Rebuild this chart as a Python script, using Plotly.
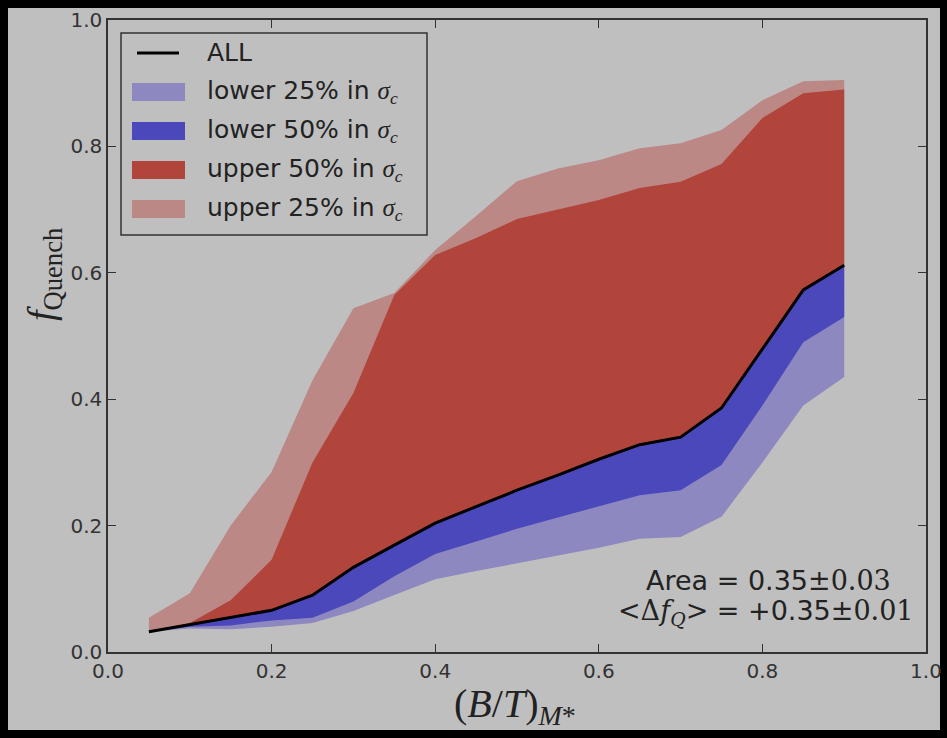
import plotly.graph_objects as go

# ---- data ----
bt = [0.05, 0.10, 0.15, 0.20, 0.25, 0.30, 0.35, 0.40, 0.45, 0.50,
      0.55, 0.60, 0.65, 0.70, 0.75, 0.80, 0.85, 0.90]
f_all = [0.032, 0.043, 0.054, 0.066, 0.090, 0.134, 0.169, 0.204, 0.230, 0.256,
         0.280, 0.305, 0.328, 0.340, 0.386, 0.480, 0.573, 0.612]
upper25 = [0.054, 0.093, 0.200, 0.285, 0.430, 0.544, 0.568, 0.636, 0.690, 0.745,
           0.765, 0.778, 0.797, 0.805, 0.826, 0.873, 0.903, 0.905]
upper50 = [0.032, 0.046, 0.082, 0.146, 0.300, 0.410, 0.565, 0.628, 0.655, 0.685,
           0.700, 0.715, 0.734, 0.744, 0.772, 0.845, 0.884, 0.890]
lower50 = [0.032, 0.040, 0.042, 0.050, 0.054, 0.080, 0.120, 0.155, 0.175, 0.195,
           0.213, 0.230, 0.248, 0.256, 0.296, 0.390, 0.490, 0.530]
lower25 = [0.032, 0.037, 0.036, 0.040, 0.046, 0.065, 0.090, 0.115, 0.128, 0.140,
           0.152, 0.165, 0.179, 0.182, 0.214, 0.300, 0.390, 0.435]

tickvals = [0.0, 0.2, 0.4, 0.6, 0.8, 1.0]
ticktext = ["0.0", "0.2", "0.4", "0.6", "0.8", "1.0"]

legend_names = ["ALL", "lower 25% in", "lower 50% in", "upper 50% in", "upper 25% in"]

GRAY = "#bfbfbf"
C_UP25 = "rgb(187,136,134)"
C_UP50 = "rgb(177,69,60)"
C_LO50 = "rgb(74,72,186)"
C_LO25 = "rgb(141,136,192)"
TXT = "#222"
SERIF = "Liberation Serif"
SERIF2 = "DejaVu Serif"

# plot-area pixel geometry
W, H = 947, 738
L, R, T, B = 108, 21, 20, 86
PW, PH = W - L - R, H - T - B


def px(xp):
    return (xp - L) / PW


def py(yp):
    return (H - B - yp) / PH


fig = go.Figure()


def helper():
    fig.add_trace(go.Scatter(x=bt, y=f_all, mode="lines", line=dict(width=0),
                             showlegend=False, hoverinfo="skip"))


def band(yvals, color, name):
    fig.add_trace(go.Scatter(x=bt, y=yvals, mode="lines", line=dict(width=0, color=color),
                             fill="tonexty", fillcolor=color, name=name, showlegend=False))


helper()
band(upper25, C_UP25, legend_names[4])
helper()
band(upper50, C_UP50, legend_names[3])
helper()
band(lower25, C_LO25, legend_names[1])
helper()
band(lower50, C_LO50, legend_names[2])

fig.add_trace(go.Scatter(x=bt, y=f_all, mode="lines", line=dict(color="black", width=3),
                         name=legend_names[0], showlegend=False))

axis_common = dict(range=[0, 1], tickvals=tickvals, ticktext=ticktext,
                   ticks="inside", ticklen=8, tickwidth=1, tickcolor="#333",
                   showline=True, linecolor="#333", linewidth=1.5, mirror="ticks",
                   showgrid=False, zeroline=False, automargin=False,
                   tickfont=dict(family="DejaVu Sans", size=20, color="#333"))
fig.update_xaxes(**axis_common)
fig.update_yaxes(**axis_common)

# axis titles
fig.add_annotation(xref="paper", yref="paper", x=px(515), y=py(706), xanchor="center",
                   yanchor="middle", showarrow=False,
                   text="(<i>B</i>/<i>T</i>)<sub><i>M</i>*</sub>",
                   font=dict(family=SERIF, size=40, color=TXT))
fig.add_annotation(xref="paper", yref="paper", x=px(44), y=py(275), xanchor="center",
                   yanchor="middle", showarrow=False, textangle=-90,
                   text="<i>f</i><sub>Quench</sub>",
                   font=dict(family=SERIF, size=38, color=TXT))

# statistics text
S = "<span style='font-family:DejaVu Serif'>"
fig.add_annotation(xref="paper", yref="paper", x=px(893), y=py(580), xanchor="right",
                   yanchor="middle", showarrow=False,
                   text="Area = 0.35" + S + "±0.03</span>",
                   font=dict(family="DejaVu Sans", size=27, color=TXT))
fig.add_annotation(xref="paper", yref="paper", x=px(916), y=py(612), xanchor="right",
                   yanchor="middle", showarrow=False,
                   text=S + "&lt;Δ<i>f</i><sub><i>Q</i></sub>&gt;</span> = +0.35" + S + "±0.01</span>",
                   font=dict(family="DejaVu Sans", size=27, color=TXT))

# gray figure panel inside black frame
fig.add_shape(type="rect", xref="paper", yref="paper", x0=px(8), x1=px(940),
              y0=py(730), y1=py(8), fillcolor=GRAY, line=dict(width=0), layer="below")

# legend (drawn manually to match the reference's patch sizes)
fig.add_shape(type="rect", xref="paper", yref="paper", x0=px(121), x1=px(427),
              y0=py(235), y1=py(33), fillcolor=GRAY, line=dict(color="#333", width=1.5))
rows = [53, 92, 131, 170, 209]
colors = [None, C_LO25, C_LO50, C_UP50, C_UP25]
sig = "<span style='font-family:Liberation Serif'><i>σ<sub>c</sub></i></span>"
for i, (ry, col, nm) in enumerate(zip(rows, colors, legend_names)):
    if col is None:
        fig.add_shape(type="line", xref="paper", yref="paper", x0=px(137), x1=px(179),
                      y0=py(ry), y1=py(ry), line=dict(color="black", width=3))
        label = nm
    else:
        fig.add_shape(type="rect", xref="paper", yref="paper", x0=px(132), x1=px(185),
                      y0=py(ry + 9), y1=py(ry - 9), fillcolor=col, line=dict(width=0))
        label = nm + " " + sig
    fig.add_annotation(xref="paper", yref="paper", x=px(205), y=py(ry), xanchor="left",
                       yanchor="middle", showarrow=False, text=label,
                       font=dict(family="DejaVu Sans", size=25, color=TXT))

fig.update_layout(
    width=W, height=H,
    margin=dict(l=L, r=R, t=T, b=B),
    paper_bgcolor="black", plot_bgcolor=GRAY,
    showlegend=False,
)

fig.write_html("out.html")
